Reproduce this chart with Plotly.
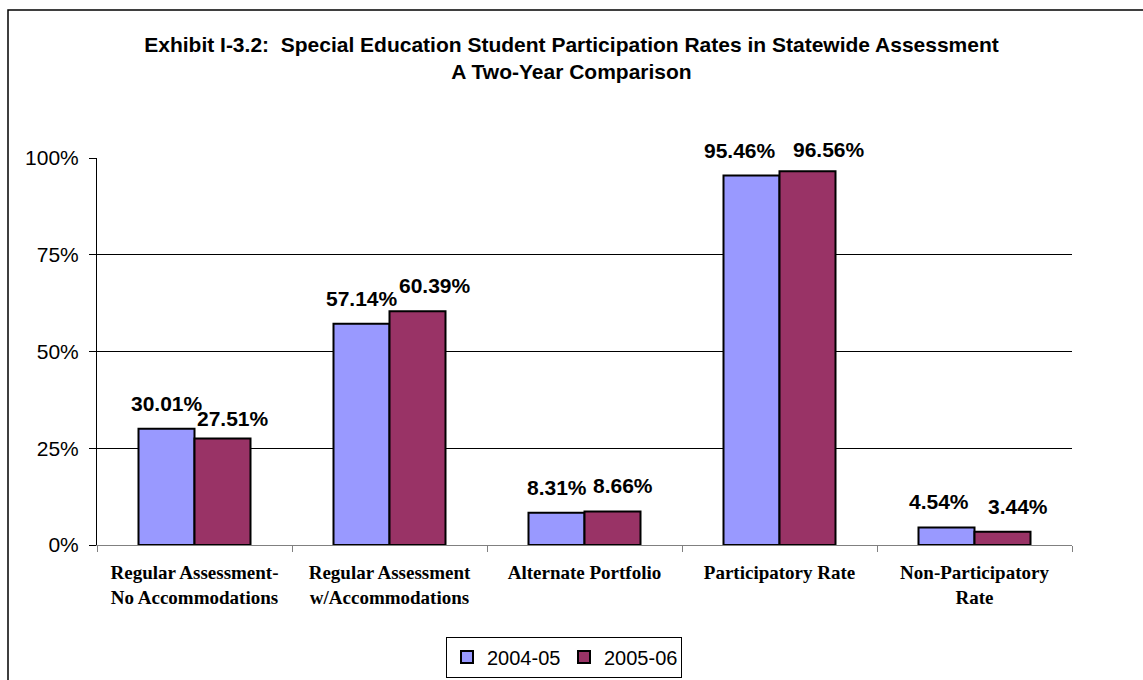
import plotly.graph_objects as go

# Participation categories and rates (fractions) for each school year
categories = [
    "Regular Assessment-<br>No Accommodations",
    "Regular Assessment<br>w/Accommodations",
    "Alternate Portfolio",
    "Participatory Rate",
    "Non-Participatory<br>Rate",
]
series_names = ["2004-05", "2005-06"]
rates_2004_05 = [0.3001, 0.5714, 0.0831, 0.9546, 0.0454]
rates_2005_06 = [0.2751, 0.6039, 0.0866, 0.9656, 0.0344]
y_ticks = [0, 0.25, 0.5, 0.75, 1.0]
y_tick_labels = ["0%", "25%", "50%", "75%", "100%"]

colors = ["#9999FF", "#993366"]
all_rates = [rates_2004_05, rates_2005_06]

# Hand-placed label nudges (pixels) so neighbouring labels stay readable
label_dx = [[0, 0, 0, -12, -8], [10, 17, 10, 21, 15]]
label_dy = [[0, 0, 0, 0, 0], [-5, 0, 0, -4, 0]]
bar_half = 28  # horizontal offset of each bar centre from the category centre

fig = go.Figure()
for name, vals, col in zip(series_names, all_rates, colors):
    fig.add_trace(go.Bar(
        name=name,
        x=categories,
        y=vals,
        marker=dict(color=col, line=dict(color="black", width=2)),
        hoverinfo="x+y",
    ))

annotations = []
for s, vals in enumerate(all_rates):
    side = -1 if s == 0 else 1
    for i, v in enumerate(vals):
        annotations.append(dict(
            x=categories[i], y=v, xref="x", yref="y",
            text=f"{v * 100:.2f}%",
            showarrow=False,
            xanchor="center", yanchor="bottom",
            xshift=side * bar_half + label_dx[s][i],
            yshift=12 + label_dy[s][i],
            font=dict(family="Liberation Sans, Arial, sans-serif", size=21,
                      color="black", weight="bold"),
        ))

fig.update_layout(
    width=1143, height=680,
    margin=dict(l=97, r=71, t=158, b=135),
    paper_bgcolor="white", plot_bgcolor="white",
    barmode="group", bargap=0.4256, bargroupgap=0,
    title=dict(
        text="Exhibit I-3.2:  Special Education Student Participation Rates in Statewide Assessment"
             "<br>A Two-Year Comparison",
        x=0.5, xref="container", xanchor="center",
        y=1 - 52 / 680, yref="container", yanchor="top",
        font=dict(family="Liberation Sans, Arial, sans-serif", size=21,
                  color="black", weight="bold"),
    ),
    font=dict(family="Liberation Sans, Arial, sans-serif", color="black"),
    showlegend=True,
    legend=dict(
        orientation="h",
        x=564 / 1143, xref="container", xanchor="center",
        y=1 - 657 / 680, yref="container", yanchor="middle",
        bordercolor="black", borderwidth=1,
        font=dict(family="Liberation Sans, Arial, sans-serif", size=20, color="black"),
        itemclick=False, itemdoubleclick=False,
        traceorder="normal",
        entrywidth=72,
    ),
    annotations=annotations,
    shapes=[dict(
        type="rect", xref="paper", yref="paper",
        x0=(8 - 97) / 975, x1=1.2, y0=-0.6, y1=(545 - 10) / 387,
        line=dict(color="black", width=1.5), fillcolor="rgba(0,0,0,0)",
        layer="below",
    )],
)

fig.update_xaxes(
    showline=True, linecolor="#808080", linewidth=1,
    ticks="outside", tickson="boundaries", ticklen=6, tickcolor="#808080",
    showgrid=False,
    ticklabelstandoff=10,
    tickfont=dict(family="Liberation Serif, Times New Roman, serif", size=19,
                  color="black", weight="bold"),
)
fig.update_yaxes(
    range=[0, 1], tickvals=y_ticks, ticktext=y_tick_labels,
    showline=True, linecolor="black", linewidth=1,
    ticks="outside", ticklen=7, tickcolor="black",
    showgrid=True, gridcolor="black", gridwidth=1,
    zeroline=False,
    ticklabelstandoff=6,
    tickfont=dict(family="Liberation Sans, Arial, sans-serif", size=21, color="black"),
)

fig.write_html("out.html")
